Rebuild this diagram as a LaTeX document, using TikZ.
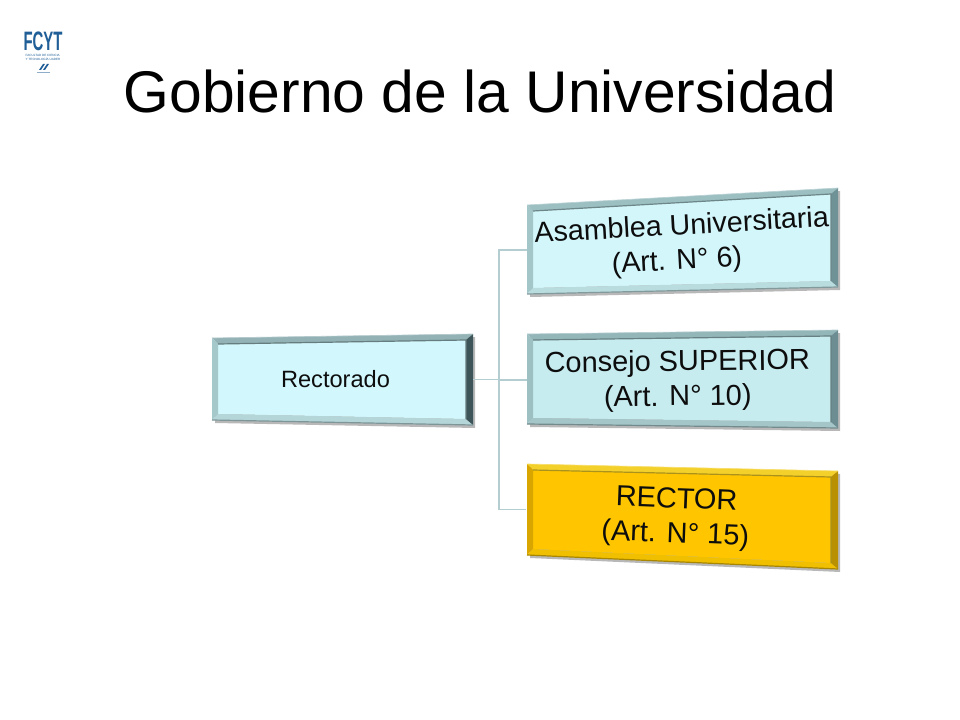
\documentclass[tikz,border=0pt]{standalone}
\usepackage{fontspec}
\setmainfont{Liberation Sans}
\usetikzlibrary{calc,positioning}

\definecolor{linkgray}{HTML}{B4CDD0}
\definecolor{logoblue}{HTML}{1F5E96}

\definecolor{aquaface}{HTML}{D3F6FB}
\definecolor{aquatop}{HTML}{9CBFC2}
\definecolor{aqualeft}{HTML}{A3C6C9}
\definecolor{aquabottom}{HTML}{B9DCDF}
\definecolor{aquaright}{HTML}{6F9297}

\definecolor{paleface}{HTML}{C6ECF0}
\definecolor{paletop}{HTML}{93B6B9}
\definecolor{paleleft}{HTML}{9DC0C3}
\definecolor{palebottom}{HTML}{A4C6C9}
\definecolor{paleright}{HTML}{6C8E93}

\definecolor{darkface}{HTML}{D2F7FC}
\definecolor{darktop}{HTML}{92B2B5}
\definecolor{darkleft}{HTML}{A5C8CB}
\definecolor{darkbottom}{HTML}{B4D6D9}
\definecolor{darkright}{HTML}{3D5559}

\definecolor{goldface}{HTML}{FFC600}
\definecolor{goldtop}{HTML}{F4D02A}
\definecolor{goldleft}{HTML}{D9A600}
\definecolor{goldbottom}{HTML}{F0C000}
\definecolor{goldright}{HTML}{B89000}

% x left, x right, y of top left, top right, bottom right, bottom left, colours
\newcommand{\bevelbox}[7]{
  \coordinate (tl) at (#1,#3);
  \coordinate (tr) at (#2,#4);
  \coordinate (br) at (#2,#5);
  \coordinate (bl) at (#1,#6);
  \coordinate (itl) at (#1+6,#3+6);
  \coordinate (itr) at (#2-7,#4+6);
  \coordinate (ibr) at (#2-7,#5-6);
  \coordinate (ibl) at (#1+6,#6-6);
  \fill[black!28] ($(tl)+(3,3)$) -- ($(tr)+(2,3)$) -- ($(br)+(2,3)$) -- ($(bl)+(3,3)$) -- cycle;
  \fill[#7face] (itl) -- (itr) -- (ibr) -- (ibl) -- cycle;
  \fill[#7top] (tl) -- (tr) -- (itr) -- (itl) -- cycle;
  \fill[#7left] (tl) -- (itl) -- (ibl) -- (bl) -- cycle;
  \fill[#7bottom] (bl) -- (ibl) -- (ibr) -- (br) -- cycle;
  \fill[#7right] (tr) -- (br) -- (ibr) -- (itr) -- cycle;
  \draw[#7top!70!black,line width=.9pt] (itl) -- (itr) -- (ibr);
  \draw[#7bottom!70!black,line width=.9pt] (bl) -- (br);
  \draw[#7top!70!white,line width=.5pt] (tl) -- (tr);
}
% pushes a two line label down in its node
\newcommand{\dropline}{\rule{0pt}{20pt}}

\tikzset{
  boxlabel/.style={align=center,inner sep=0pt,minimum height=60pt,font=\fontsize{21.7pt}{26pt}\selectfont,text=black!95},
  link/.style={draw=linkgray,line width=1.1pt}
}

\begin{document}
\begin{tikzpicture}[x=0.75pt,y=-0.75pt]
  \useasboundingbox (0,0) rectangle (960,720);

  % logo
  \node[inner sep=0pt,text=logoblue,font=\fontsize{20pt}{20pt}\selectfont] (logo) at (43,41) {\scalebox{0.56}[1]{\textbf{FCYT}}};
  \node[below=2.5pt of logo,inner sep=0pt,align=left,text=logoblue,font=\fontsize{2.3pt}{2.8pt}\selectfont] (logotext) {FACULTAD DE CIENCIA\\Y TECNOLOGÍA UADER};
  \fill[logoblue] (39,70) -- (43,64) -- (45,64) -- (41,70) -- cycle;
  \fill[logoblue] (43,70) -- (47,64) -- (49,64) -- (45,70) -- cycle;
  \draw[logoblue!50,line width=.4pt] (37,72) -- (50,72);

  % title
  \node[inner sep=0pt,font=\fontsize{44.1pt}{50pt}\selectfont] (title) at (480,91) {Gobierno de la Universidad};

  % boxes
  \bevelbox{212}{473}{338}{334}{425}{420}{dark}
  \bevelbox{527}{838}{205}{188}{287}{294}{aqua}
  \bevelbox{527}{838}{334}{330}{428}{424}{pale}
  \bevelbox{527}{838}{464}{471}{569}{555}{gold}

  \node[boxlabel,minimum width=206.25pt,font=\fontsize{17.7pt}{21pt}\selectfont] (rectorado) at (335.5,379.5) {Rectorado};
  \node[boxlabel,minimum width=233.25pt,rotate=3.2,font=\fontsize{21.5pt}{26pt}\selectfont] (asamblea) at (682.5,241.5) {\dropline Asamblea Universitaria\\(Art. N° 6)\hspace*{10pt}};
  \node[boxlabel,minimum width=225.75pt,rotate=0.7] (consejo) at (677.5,378) {\dropline Consejo SUPERIOR\\(Art. N° 10)};
  \node[boxlabel,minimum width=224.25pt,rotate=-2.2] (rector) at (676,515) {\dropline RECTOR\\(Art. N° 15)};

  % tree lines
  \coordinate (trunk) at (499,379.5);
  \draw[link] (rectorado.east) -- (trunk);
  \foreach \to in {asamblea,consejo,rector}
    \draw[link] (trunk) |- (\to.west);
\end{tikzpicture}
\end{document}
